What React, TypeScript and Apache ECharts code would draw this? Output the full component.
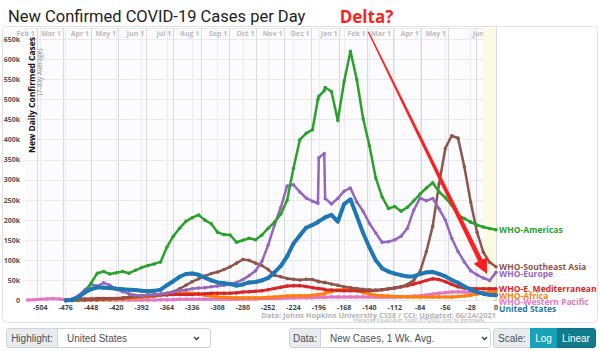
import React, { useEffect, useRef } from "react";
import * as echarts from "echarts";

// days relative to Jun 23, 2021
const days = [
  -518, -511, -504, -497, -490, -483, -476, -469, -462, -455, -448, -441, -434, -427, -420, -413, -406, -399, -392,
  -385, -378, -371, -364, -357, -350, -343, -336, -329, -322, -315, -308, -301, -294, -287, -280, -273, -266, -259,
  -252, -245, -238, -231, -224, -217, -210, -203, -197, -196, -190, -189, -182, -175, -168, -161, -154, -147, -140,
  -133, -126, -119, -112, -105, -98, -91, -84, -77, -70, -63, -56, -49, -42, -35, -28, -21, -14, -7, 0,
];

// values in thousands of cases (7-day average)
const whoAmericas = [
  null, null, null, null, null, null, 0, 1, 4, 20, 43, 68, 72, 66, 69, 72, 68, 75, 82,
  87, 91, 96, 133, 160, 180, 197, 206, 213, 200, 191, 170, 164, 163, 145, 150, 155, 151, 163,
  180, 195, 215, 250, 329, 400, 416, 425, 500, 508, 522, 530, 520, 448, 545, 620, 550, 453, 385,
  305, 258, 229, 234, 222, 232, 248, 265, 280, 293, 270, 256, 237, 213, 204, 195, 188, 183, 179, 176,
];
const unitedStates = [
  null, null, null, null, null, null, 0, 1, 8, 20, 28, 33, 32, 31, 29, 28, 27, 26, 24,
  23, 24, 27, 38, 48, 59, 66, 67, 64, 57, 50, 45, 43, 41, 37, 40, 45, 46, 50,
  56, 70, 86, 110, 142, 162, 181, 188, 195, 197, 205, 207, 213, 196, 240, 252, 210, 168, 132,
  100, 80, 72, 67, 63, 60, 60, 66, 70, 71, 66, 60, 51, 44, 35, 27, 21, 17, 14, 13,
];
const whoEurope = [
  null, null, null, null, null, null, 0, 4, 12, 26, 40, 36, 44, 38, 28, 22, 17, 13, 12,
  13, 14, 16, 18, 21, 24, 26, 29, 31, 32, 34, 36, 38, 41, 45, 52, 62, 74, 97,
  138, 188, 232, 285, 288, 270, 255, 247, 242, 355, 366, 254, 240, 254, 272, 280, 245, 222, 192,
  168, 145, 146, 151, 160, 180, 225, 255, 248, 254, 228, 200, 155, 122, 96, 74, 64, 56, 50, 70,
];
const whoSoutheastAsia = [
  null, null, null, null, null, null, 0, 0, 1, 1, 2, 2, 3, 4, 5, 6, 8, 10, 12,
  14, 15, 16, 18, 22, 29, 38, 47, 54, 61, 67, 71, 77, 84, 93, 102, 100, 93, 87,
  77, 63, 59, 55, 53, 51, 53, 52, 48, 47, 45, 45, 41, 38, 34, 32, 30, 28, 27,
  26, 27, 29, 31, 34, 40, 50, 72, 122, 185, 290, 379, 410, 404, 333, 245, 170, 120, 95, 84,
];
const whoEMediterranean = [
  null, null, null, null, null, null, 1, 2, 3, 4, 4, 5, 5, 5, 5, 6, 8, 10, 11,
  12, 12, 14, 14, 15, 15, 15, 15, 16, 17, 18, 18, 18, 18, 19, 21, 22, 23, 24,
  27, 30, 33, 36, 37, 37, 35, 32, 30, 30, 28, 27, 26, 25, 24, 24, 24, 24, 24,
  25, 27, 29, 31, 34, 37, 41, 45, 50, 54, 52, 47, 40, 34, 31, 30, 29, 29, 29, 29,
];
const whoAfrica = [
  null, null, null, null, null, null, 0, 0, 0, 1, 1, 1, 2, 2, 3, 4, 5, 6, 8,
  9, 11, 13, 15, 17, 18, 19, 18, 16, 13, 11, 9, 8, 7, 7, 7, 7, 7, 7,
  8, 9, 10, 11, 12, 12, 12, 13, 15, 15, 17, 18, 22, 26, 28, 29, 25, 20, 16,
  13, 12, 11, 10, 10, 9, 9, 9, 9, 9, 9, 9, 9, 10, 11, 13, 16, 19, 21, 22,
];
const whoWesternPacific = [
  1, 2, 3, 4, 5, 4, 2, 1, 1, 1, 2, 2, 2, 1, 1, 1, 1, 1, 1,
  1, 1, 2, 2, 2, 3, 3, 3, 3, 3, 3, 3, 3, 3, 3, 4, 4, 4, 5,
  5, 5, 5, 6, 6, 7, 7, 7, 8, 8, 8, 8, 9, 9, 9, 9, 9, 9, 9,
  8, 8, 8, 8, 9, 10, 11, 12, 14, 16, 18, 20, 21, 22, 21, 20, 19, 18, 17, 16,
];

const bottomTicks = [-504, -476, -448, -420, -392, -364, -336, -308, -280, -252, -224, -196, -168, -140, -112, -84, -56, -28, 0];
const monthDays = [-508, -479, -448, -418, -387, -357, -326, -295, -265, -234, -204, -173, -142, -114, -83, -53, -22, 0];
const monthNames = ["Feb 1", "Mar 1", "Apr 1", "May 1", "Jun 1", "Jul 1", "Aug 1", "Sep 1", "Oct 1", "Nov 1", "Dec 1", "Jan 1", "Feb 1", "Mar 1", "Apr 1", "May 1", "", "Jun 23"];

const seriesDefs = [
  { name: "WHO-Western Pacific", values: whoWesternPacific, color: "#e377c2", width: 3 },
  { name: "WHO-Africa", values: whoAfrica, color: "#ff7f0e", width: 3 },
  { name: "WHO-E. Mediterranean", values: whoEMediterranean, color: "#d62728", width: 3 },
  { name: "WHO-Southeast Asia", values: whoSoutheastAsia, color: "#8c564b", width: 2.5 },
  { name: "WHO-Europe", values: whoEurope, color: "#9467bd", width: 2.5 },
  { name: "WHO-Americas", values: whoAmericas, color: "#2ca02c", width: 2.5 },
  { name: "United States", values: unitedStates, color: "#1f77b4", width: 4 },
];

const FONT = "'Open Sans', sans-serif";
const LABEL_GAP = 6.4;

export default function App() {
  const ref = useRef<HTMLDivElement>(null);
  useEffect(() => {
    document.body.style.margin = "0";
    const chart = echarts.init(ref.current!, null, { renderer: "svg" });

    const S = [368.3, 31.7];
    const T = [487, 274];
    const L = Math.hypot(T[0] - S[0], T[1] - S[1]);
    const u = [(T[0] - S[0]) / L, (T[1] - S[1]) / L];
    const n = [-u[1], u[0]];
    const B = [T[0] - 15 * u[0], T[1] - 15 * u[1]];
    const pt = (p: number[], w: number) => [p[0] + w * n[0], p[1] + w * n[1]];
    const arrowPts = [pt(S, 0.7), pt(B, 2.4), pt(B, 7.5), T, pt(B, -7.5), pt(B, -2.4), pt(S, -0.7)];

    const monthLabel = (v: number) => {
      const i = monthDays.indexOf(Math.round(v));
      return i >= 0 ? monthNames[i] : "";
    };

    chart.setOption({
      animation: false,
      title: {
        text: "New Confirmed COVID-19 Cases per Day",
        left: 3,
        top: 3,
        textStyle: { fontFamily: "Roboto", fontSize: 16.5, fontWeight: "normal", color: "#222" },
      },
      grid: { left: 25, top: 28, width: 471, height: 272.5, show: true, backgroundColor: "#fcfcfe", borderWidth: 0 },
      xAxis: [
        {
          type: "value",
          position: "bottom",
          min: -521,
          max: 0,
          axisLine: { show: false },
          splitLine: { show: false },
          axisTick: { show: true, inside: true, length: 272.5, customValues: bottomTicks, lineStyle: { color: "#ebebf0", width: 1 } },
          axisLabel: { customValues: bottomTicks, fontSize: 7, fontWeight: "bold", color: "#444", margin: 3, fontFamily: FONT },
        },
        {
          type: "value",
          position: "top",
          min: -521,
          max: 0,
          axisLine: { show: false },
          splitLine: { show: false },
          axisTick: { show: true, inside: true, length: 272.5, customValues: monthDays, lineStyle: { color: "#d9d9de", width: 1 } },
          axisLabel: {
            inside: true,
            customValues: monthDays.filter((d, i) => monthNames[i] !== ""),
            formatter: monthLabel,
            align: "right",
            padding: [0, 2, 0, 0],
            fontSize: 7,
            fontWeight: "bold",
            color: "#bbb",
            margin: 2,
            fontFamily: FONT,
          },
        },
      ],
      yAxis: {
        type: "value",
        min: 0,
        max: 678,
        interval: 50,
        axisLine: { show: true, lineStyle: { color: "#aaa" } },
        axisTick: { show: true, length: 3, lineStyle: { color: "#888" } },
        splitLine: { lineStyle: { color: "#e9e9ef" } },
        axisLabel: {
          formatter: (v: number) => (v % 50 === 0 ? (v === 0 ? "0" : v + "k") : ""),
          fontSize: 7,
          fontWeight: "bold",
          color: "#555",
          margin: 5,
          fontFamily: FONT,
        },
      },
      series: seriesDefs.map((s, k) => ({
        type: "line",
        name: s.name,
        data: days.map((d, i) => [d, s.values[i]]),
        showSymbol: true,
        symbol: "circle",
        symbolSize: s.width > 3 ? 4 : 3.5,
        lineStyle: { width: s.width, color: s.color },
        itemStyle: { color: s.color },
        z: 3 + k,
        silent: true,
        emphasis: { disabled: true },
        endLabel: {
          show: true,
          formatter: s.name,
          color: s.color,
          fontSize: 8.5,
          fontWeight: "bold",
          fontFamily: FONT,
          distance: 3,
        },
        ...(k === 0
          ? {
              markArea: {
                silent: true,
                itemStyle: { color: "#fbfbe3" },
                data: [[{ xAxis: -14 }, { xAxis: 0 }]],
              },
            }
          : {}),
      })),
      graphic: [
        {
          type: "rect",
          z: -10,
          shape: { x: 2.5, y: 26.5, width: 595, height: 296, r: 4 },
          style: { fill: "none", stroke: "#e2e2e2", lineWidth: 1 },
        },
        {
          type: "text",
          x: 31,
          y: 95,
          rotation: Math.PI / 2,
          z: 20,
          style: { text: "New Daily Confirmed Cases", fontSize: 8.5, fontWeight: "bold", fill: "#111", fontFamily: FONT, align: "center", verticalAlign: "middle" },
        },
        {
          type: "text",
          x: 39.5,
          y: 72,
          rotation: Math.PI / 2,
          z: 20,
          style: { text: "(7-day Average)", fontSize: 6.5, fill: "#888", fontFamily: FONT, align: "center", verticalAlign: "middle" },
        },
        {
          type: "polygon",
          z: 50,
          shape: { points: arrowPts },
          style: { fill: "#ff1f1f" },
        },
        {
          type: "text",
          x: 366.5,
          y: 16,
          z: 50,
          style: { text: "Delta?", fontSize: 17, fontWeight: "bold", fill: "#ff1f1f", fontFamily: FONT, align: "center", verticalAlign: "middle" },
        },
        {
          type: "text",
          x: 496,
          y: 314.5,
          style: { text: "Data: Johns Hopkins University CSSE / CCI; Updated: 06/24/2021", fontSize: 7.5, fontWeight: "bold", fill: "#b3b3b3", fontFamily: FONT, align: "right", verticalAlign: "middle" },
        },
        {
          type: "text",
          x: 486,
          y: 320,
          style: { text: "Interactive Visualization: https://91-DIVOC.com/ by @profwade_", fontSize: 4.5, fill: "#aaa", fontFamily: FONT, align: "right", verticalAlign: "middle" },
        },
      ],
    });

    // spread end labels so they do not overlap (push down, keep order)
    const ends = seriesDefs.map((s, k) => {
      const last = s.values[s.values.length - 1] as number;
      const p = chart.convertToPixel({ gridIndex: 0 }, [days[days.length - 1], last]) as number[];
      return { k, y: p[1] };
    });
    ends.sort((a, b) => a.y - b.y);
    for (let i = 1; i < ends.length; i++) {
      if (ends[i].y < ends[i - 1].y + LABEL_GAP) ends[i].y = ends[i - 1].y + LABEL_GAP;
    }
    const layoutY: number[] = [];
    ends.forEach((e) => (layoutY[e.k] = e.y));
    chart.setOption({
      series: seriesDefs.map((s, k) => ({ labelLayout: { y: layoutY[k] } })),
    });

    return () => chart.dispose();
  }, []);

  const addon: React.CSSProperties = {
    position: "absolute",
    top: 328,
    height: 20,
    boxSizing: "border-box",
    background: "#e9ecef",
    border: "1px solid #ced4da",
    color: "#495057",
    fontFamily: "'Liberation Sans', Arial, sans-serif",
    fontSize: 10,
    display: "flex",
    alignItems: "center",
    justifyContent: "center",
  };
  const select: React.CSSProperties = {
    ...addon,
    background: "#fff",
    justifyContent: "flex-start",
    paddingLeft: 9,
  };
  const chevron = (x: number) => (
    <svg style={{ position: "absolute", left: x, top: 336, width: 7, height: 5 }} viewBox="0 0 7 5">
      <polyline points="1,1 3.5,3.5 6,1" fill="none" stroke="#343a40" strokeWidth="1.3" />
    </svg>
  );

  return (
    <div style={{ position: "fixed", left: 0, top: 0, width: 600, height: 351, background: "#fff" }}>
      <div ref={ref} style={{ position: "absolute", left: 0, top: 0, width: 600, height: 351 }} />
      <div style={{ ...addon, left: 6, width: 52, borderRadius: "3px 0 0 3px" }}>Highlight:</div>
      <div style={{ ...select, left: 57, width: 154, borderRadius: "0 3px 3px 0" }}>United States</div>
      {chevron(193)}
      <div style={{ ...addon, left: 289, width: 32, borderRadius: "3px 0 0 3px" }}>Data:</div>
      <div style={{ ...select, left: 320, width: 171, borderRadius: "0 3px 3px 0" }}>New Cases, 1 Wk. Avg.</div>
      {chevron(481)}
      <div style={{ ...addon, left: 493, width: 38, borderRadius: "3px 0 0 3px" }}>Scale:</div>
      <div style={{ ...addon, left: 530, width: 27, background: "#17a2b8", borderColor: "#17a2b8", color: "#fff" }}>Log</div>
      <div style={{ ...addon, left: 556.5, width: 39, background: "#117a8b", borderColor: "#10707f", color: "#fff", borderRadius: "0 3px 3px 0" }}>Linear</div>
    </div>
  );
}
